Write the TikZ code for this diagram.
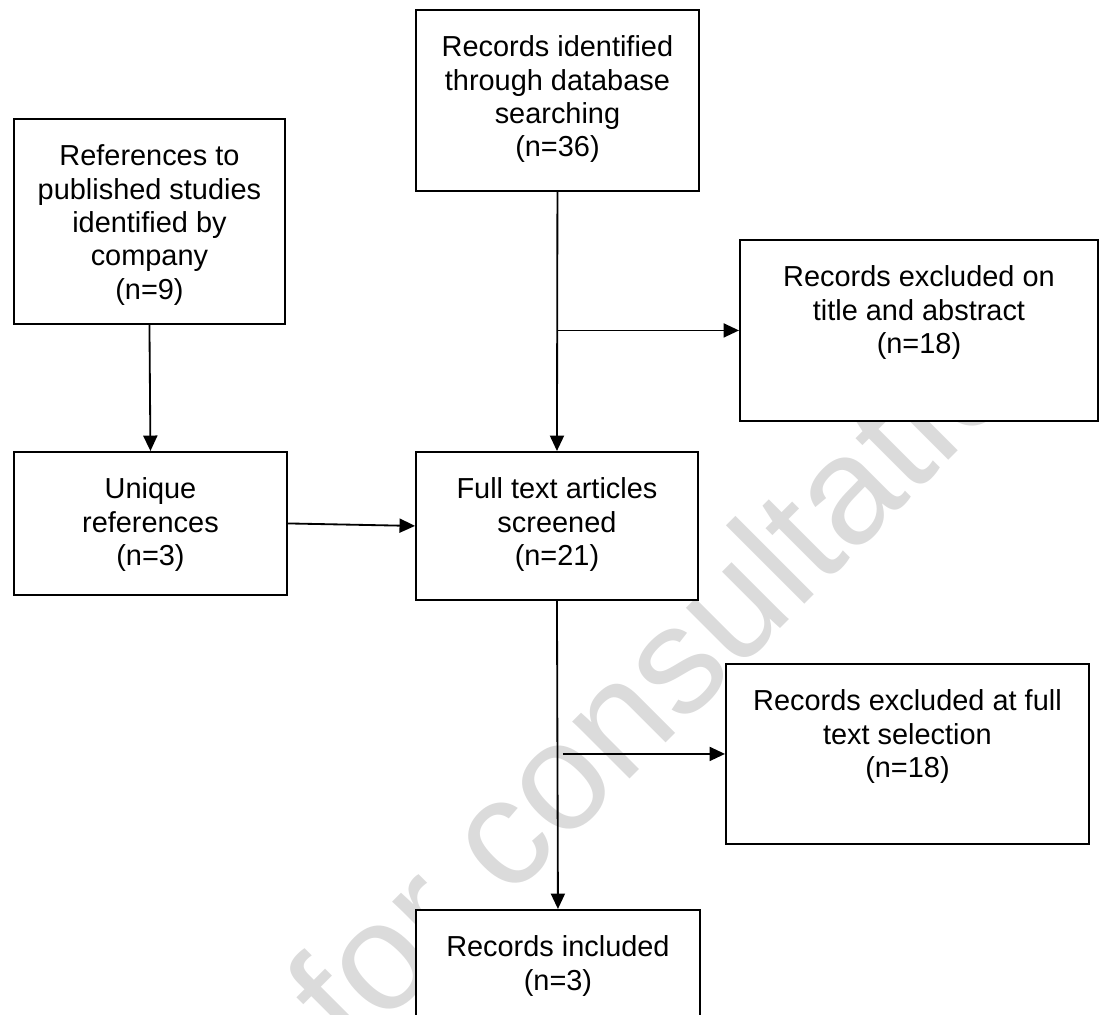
\documentclass[tikz,border=0pt]{standalone}
\usepackage{fontspec}
\setmainfont{Liberation Sans}
\usepackage{tikz}
\usetikzlibrary{arrows.meta}
\usepackage{xcolor}
\definecolor{ColLine}{RGB}{0,0,0}
\definecolor{ColMark}{RGB}{219,219,219}
\tikzstyle{BoxFlow}=[rectangle,draw=ColLine,fill=white,line width=1.3pt,anchor=north west,
inner sep=0pt,align=center,font=\fontsize{20.56}{23.7}\selectfont]
\tikzstyle{ArrowFlow}=[ColLine,line width=1.3pt,-{Triangle[length=11pt,width=10pt]}]
\tikzstyle{WaterMark}=[ColMark,anchor=base west,inner sep=0pt,rotate=45,
font=\fontsize{108.8}{120}\selectfont]

\begin{document}
\begin{tikzpicture}[x=0.025cm,y=-0.025cm]
        \useasboundingbox(0,0)rectangle(1099,1014);
        \clip(0,0)rectangle(1099,1014);
        \node[WaterMark](wm)at(352,1057){for consultation};
        % text height = first baseline + lines below it, text depth = rest of the box
        \node[BoxFlow,minimum width=7.075cm,text height=3.674cm,text depth=0.851cm](ident)at(415,9)
            {Records identified\\through database\\searching\\(n=36)};
        \node[BoxFlow,minimum width=6.775cm,text height=4.507cm,text depth=0.618cm](refs)at(13,118)
            {References to\\published studies\\identified by\\company\\(n=9)};
        \node[BoxFlow,minimum width=8.95cm,text height=2.841cm,text depth=1.684cm](excla)at(739,239)
            {Records excluded on\\title and abstract\\(n=18)};
        \node[BoxFlow,minimum width=6.825cm,text height=2.841cm,text depth=0.734cm](uniq)at(13,451)
            {Unique\\references\\(n=3)};
        \node[BoxFlow,minimum width=7.05cm,text height=2.841cm,text depth=0.859cm](screen)at(415,451)
            {Full text articles\\screened\\(n=21)};
        \node[BoxFlow,minimum width=9.075cm,text height=2.841cm,text depth=1.659cm](exclb)at(725,663)
            {Records excluded at full\\text selection\\(n=18)};
        \node[BoxFlow,minimum width=7.1cm,text height=2.008cm,text depth=1.742cm](incl)at(415,909)
            {Records included\\(n=3)};
        \coordinate(tapa)at(excla.west-|ident.south);
        \coordinate(tapb)at([xshift=0.15cm]exclb.west-|screen.south);
        \draw[ArrowFlow](ident.south)--(screen.north);
        \draw[ArrowFlow](tapa)--(excla.west);
        \draw[ArrowFlow](refs.south)--(uniq.north);
        \draw[ArrowFlow](uniq.east)--(screen.west);
        \draw[ArrowFlow](screen.south)--(incl.north);
        \draw[ArrowFlow](tapb)--(exclb.west);
    \end{tikzpicture}
\end{document}
